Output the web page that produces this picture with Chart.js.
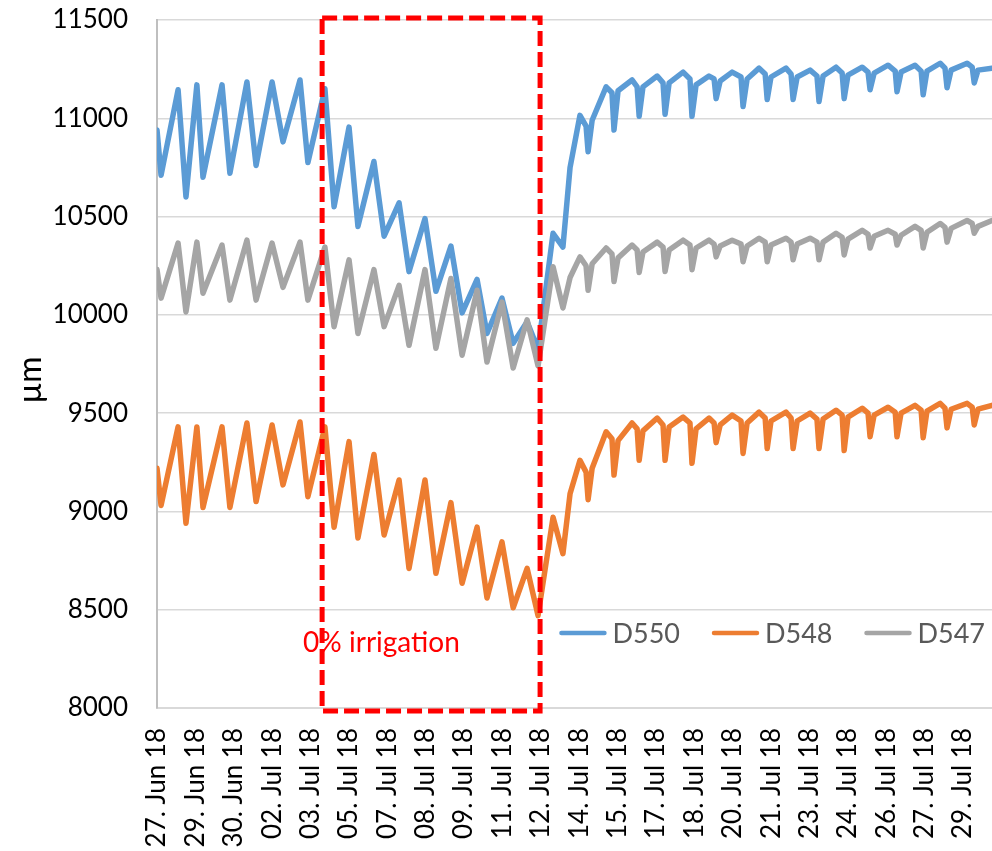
<!DOCTYPE html>
<html>
<head>
<meta charset="utf-8">
<script src="https://cdn.jsdelivr.net/npm/chart.js@4.4.0/dist/chart.umd.min.js"></script>
<style>
  html, body { margin: 0; padding: 0; background: #fff; }
  #wrap { width: 992px; height: 851px; overflow: hidden; }
</style>
</head>
<body>
<div id="wrap"><canvas id="chart" width="992" height="851"></canvas></div>
<script>
// tick labels on the x axis, one every ~1.5 days
const tickLabels = ['27. Jun 18', '29. Jun 18', '30. Jun 18', '02. Jul 18', '03. Jul 18', '05. Jul 18',
  '07. Jul 18', '08. Jul 18', '09. Jul 18', '11. Jul 18', '12. Jul 18', '14. Jul 18', '15. Jul 18',
  '17. Jul 18', '18. Jul 18', '20. Jul 18', '21. Jul 18', '23. Jul 18', '24. Jul 18', '26. Jul 18',
  '27. Jul 18', '29. Jul 18'];
const tickStep = 1.511; // days between two labels
const xMax = 32.87;

// time of each reading, days since first label
const days = [0, 0.16, 0.83, 1.14, 1.57, 1.81, 2.56, 2.87, 3.54, 3.90, 4.53, 4.96, 5.63, 5.94, 6.61, 6.97,
  7.56, 7.91, 8.54, 8.94, 9.53, 9.92, 10.55, 10.98, 11.57, 12.01, 12.60, 12.99, 13.58, 14.02, 14.57, 15.00,
  15.59, 15.98, 16.26, 16.65,
  16.89, 16.97, 17.13, 17.68, 17.91, 17.99, 18.15, 18.70, 18.90, 18.98, 19.13, 19.69,
  19.92, 20.00, 20.16, 20.71, 20.98, 21.06, 21.22, 21.73, 21.93, 22.01, 22.17, 22.64,
  22.99, 23.07, 23.23, 23.70, 23.94, 24.02, 24.17, 24.76, 24.96, 25.04, 25.20, 25.71,
  25.98, 26.06, 26.22, 26.73, 26.97, 27.05, 27.20, 27.76, 27.99, 28.07, 28.23, 28.78,
  29.06, 29.13, 29.29, 29.84, 30.08, 30.16, 30.31, 30.83, 31.02, 31.10, 31.26, 31.89,
  32.09, 32.17, 32.32, 32.87];

const d550 = [10940, 10710, 11145, 10600, 11170, 10700, 11170, 10720, 11185, 10760, 11185, 10880, 11195,
  10775, 11150, 10550, 10955, 10450, 10780, 10400, 10570, 10220, 10490, 10120, 10350, 10010, 10180, 9905,
  10085, 9855, 9965, 9825, 10415, 10345, 10750, 11015,
  10960, 10830, 10990, 11160, 11130, 10940, 11140, 11195, 11160, 11010, 11160, 11215,
  11180, 11020, 11180, 11235, 11200, 11010, 11170, 11215, 11200, 11100, 11190, 11235,
  11210, 11060, 11200, 11255, 11225, 11095, 11210, 11255, 11225, 11095, 11210, 11245,
  11215, 11085, 11215, 11260, 11230, 11100, 11220, 11260, 11235, 11145, 11230, 11270,
  11240, 11135, 11235, 11270, 11240, 11120, 11240, 11280, 11255, 11155, 11245, 11280,
  11260, 11180, 11245, 11255];

const d548 = [9220, 9030, 9430, 8940, 9430, 9020, 9430, 9020, 9450, 9050, 9440, 9135, 9455, 9075, 9430,
  8920, 9355, 8865, 9290, 8880, 9160, 8710, 9160, 8685, 9045, 8635, 8920, 8560, 8845, 8510, 8710, 8470,
  8970, 8785, 9090, 9260,
  9200, 9060, 9220, 9405, 9370, 9185, 9360, 9450, 9420, 9260, 9410, 9475,
  9440, 9260, 9430, 9480, 9450, 9245, 9420, 9475, 9450, 9350, 9440, 9490,
  9460, 9295, 9450, 9505, 9475, 9320, 9460, 9505, 9475, 9320, 9460, 9500,
  9470, 9320, 9470, 9515, 9490, 9310, 9480, 9525, 9500, 9380, 9490, 9530,
  9505, 9380, 9500, 9540, 9515, 9375, 9510, 9550, 9525, 9425, 9520, 9550,
  9530, 9440, 9520, 9540];

const d547 = [10230, 10085, 10365, 10015, 10370, 10110, 10355, 10075, 10380, 10075, 10365, 10140, 10370,
  10075, 10345, 9940, 10280, 9905, 10230, 9940, 10150, 9845, 10230, 9830, 10185, 9795, 10125, 9760, 10065,
  9730, 9975, 9740, 10245, 10035, 10190, 10295,
  10250, 10125, 10260, 10340, 10310, 10170, 10290, 10355, 10330, 10215, 10320, 10370,
  10345, 10220, 10330, 10380, 10355, 10230, 10340, 10380, 10360, 10295, 10350, 10380,
  10360, 10270, 10350, 10390, 10370, 10270, 10355, 10390, 10370, 10280, 10360, 10390,
  10370, 10280, 10370, 10415, 10395, 10305, 10385, 10430, 10410, 10340, 10400, 10430,
  10410, 10355, 10405, 10450, 10430, 10340, 10420, 10465, 10445, 10370, 10440, 10480,
  10465, 10415, 10450, 10480];

// period without irrigation (days)
const dryStart = 6.5;
const dryEnd = 15.08;

const FONT = 'Lato';
Chart.defaults.font.family = FONT;
Chart.defaults.font.size = 26;
Chart.defaults.color = '#000';

function toPoints(values) {
  return days.map((t, i) => ({ x: t, y: values[i] }));
}

// dashed box, its text, the y title and the legend
const overlay = {
  id: 'overlay',
  afterDatasetsDraw(chart) {
    const { ctx, chartArea, scales: { x, y } } = chart;
    const left = x.getPixelForValue(dryStart);
    const right = x.getPixelForValue(dryEnd);
    const top = y.getPixelForValue(y.max) - 2;
    const bottom = y.getPixelForValue(y.min) + 3;

    ctx.save();
    ctx.fillStyle = '#ff0000';
    ctx.font = '28px ' + FONT;
    ctx.textBaseline = 'middle';
    ctx.fillText('0% irrigation', left - 19, chartArea.bottom - 65);

    ctx.strokeStyle = '#ff0000';
    ctx.lineWidth = 5;
    ctx.setLineDash([15, 6]);
    ctx.strokeRect(left, top, right - left, bottom - top);
    ctx.restore();
  },
  afterDraw(chart) {
    const { ctx, chartArea } = chart;
    ctx.save();

    // y axis title
    ctx.fillStyle = '#000';
    ctx.font = '32px ' + FONT;
    ctx.textAlign = 'center';
    ctx.textBaseline = 'middle';
    ctx.translate(31, 380);
    ctx.rotate(-Math.PI / 2);
    ctx.fillText('µm', 0, 0);
    ctx.setTransform(1, 0, 0, 1, 0, 0);

    // legend
    ctx.font = '27px ' + FONT;
    ctx.textAlign = 'left';
    const sample = 47, gap = 6, space = 32;
    const items = chart.data.datasets;
    let total = 0;
    items.forEach((ds, i) => {
      total += sample + gap + ctx.measureText(ds.label).width + (i < items.length - 1 ? space : 0);
    });
    let lx = chartArea.right - total - 7;
    const ly = chartArea.bottom - 75;
    items.forEach(ds => {
      ctx.strokeStyle = ds.borderColor;
      ctx.lineWidth = 4.5;
      ctx.lineCap = 'round';
      ctx.beginPath();
      ctx.moveTo(lx + 2, ly);
      ctx.lineTo(lx + sample - 2, ly);
      ctx.stroke();
      lx += sample + gap;
      ctx.fillStyle = '#595959';
      ctx.fillText(ds.label, lx, ly + 1);
      lx += ctx.measureText(ds.label).width + space;
    });
    ctx.restore();
  }
};

new Chart(document.getElementById('chart'), {
  type: 'line',
  data: {
    datasets: [
      { label: 'D550', data: toPoints(d550), borderColor: '#5B9BD5', order: 2 },
      { label: 'D548', data: toPoints(d548), borderColor: '#ED7D31', order: 1 },
      { label: 'D547', data: toPoints(d547), borderColor: '#A5A5A5', order: 0 },
    ],
  },
  options: {
    responsive: false,
    animation: false,
    layout: { padding: { top: 20, right: 0, left: 0, bottom: 0 } },
    elements: {
      line: { borderWidth: 5.5, tension: 0, borderJoinStyle: 'round', borderCapStyle: 'round' },
      point: { radius: 0 },
    },
    plugins: {
      legend: { display: false },
      tooltip: { enabled: false },
    },
    scales: {
      x: {
        type: 'linear',
        min: 0,
        max: xMax,
        grid: { display: false, drawTicks: true, tickLength: 20 },
        border: { display: true, color: '#D9D9D9', width: 2 },
        afterBuildTicks(axis) {
          axis.ticks = tickLabels.map((_, i) => ({ value: i * tickStep }));
        },
        ticks: {
          autoSkip: false,
          maxRotation: 90,
          minRotation: 90,
          padding: 0,
          font: { lineHeight: 1 },
          callback: (value, index) => tickLabels[index],
        },
        afterFit(scale) { scale.height = 143; },
      },
      y: {
        min: 8000,
        max: 11500,
        grid: { color: '#D9D9D9', lineWidth: 1.5, drawTicks: true, tickLength: 29, tickColor: 'rgba(0,0,0,0)' },
        border: { display: true, color: '#BFBFBF', width: 2 },
        ticks: {
          stepSize: 500,
          padding: 0,
          callback: v => String(v),
        },
        afterFit(scale) { scale.width = 157; },
      },
    },
  },
  plugins: [overlay],
});
</script>
</body>
</html>
